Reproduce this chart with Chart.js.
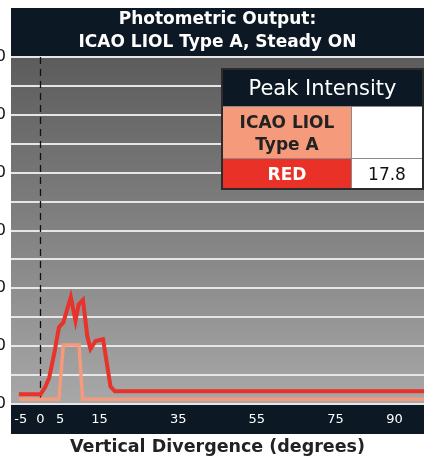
<!DOCTYPE html>
<html>
<head>
<meta charset="utf-8">
<script src="https://cdn.jsdelivr.net/npm/chart.js@4"></script>
<style>
    html, body { margin: 0; padding: 0; background: #fff; }
    #wrap { position: relative; width: 424px; height: 459px; overflow: hidden; }
    #myChart { position: absolute; left: -20px; top: 0; }
    #peak {
        position: absolute; left: 221px; top: 68px; width: 203px;
        border-collapse: collapse; font-family: "DejaVu Sans", sans-serif;
        border: 2px solid #2b2b2b;
    }
    #peak td { border: 1px solid #8a8a8a; text-align: center; padding: 0; }
    #peak .head { background: #0c1824; color: #fff; font-size: 21px; height: 36px; }
    #peak .lbl1 { background: #f59b7c; color: #222; font-weight: bold; font-size: 17px; height: 51px; width: 128px; line-height: 22px; }
    #peak .lbl2 { background: #ea3127; color: #fff; font-weight: bold; font-size: 17px; height: 29px; }
    #peak .val { background: #fff; color: #111; font-size: 17px; }
</style>
</head>
<body>
<div id="wrap">
    <canvas id="myChart" width="444" height="459"></canvas>
    <table id="peak">
        <tr><td class="head" colspan="2">Peak Intensity</td></tr>
        <tr><td class="lbl1">ICAO LIOL<br>Type A</td><td class="val"></td></tr>
        <tr><td class="lbl2">RED</td><td class="val">17.8</td></tr>
    </table>
</div>
<script>
"use strict";

// values
const redDeg = [-5.5, 0, 1.1, 2.2, 3.6, 4.7, 5.8, 7.7, 8.9, 9.7, 10.8, 11.9, 12.7, 14.0, 15.9, 17.8, 18.9, 97.5];
const redVals = [1.7, 1.7, 2.8, 4.5, 9.1, 13.3, 14.1, 18.5, 14.4, 17.2, 18.0, 11.7, 9.5, 10.9, 11.2, 3.0, 2.2, 2.2];
const typeADeg = [-5.5, 4.7, 5.8, 9.8, 10.7, 97.5];
const typeAVals = [0.8, 0.8, 10.2, 10.2, 0.8, 0.8];
const xTicks = [-5, 0, 5, 15, 35, 55, 75, 90];

const toPoints = (xs, ys) => xs.map((x, i) => ({ x: x, y: ys[i] }));

const FONT = "'DejaVu Sans', sans-serif";
const NAVY = "#0c1824";

// plot background, title band, x-axis band
const backdrop = {
    id: "backdrop",
    beforeDraw(chart) {
        const { ctx, chartArea: a } = chart;
        ctx.save();
        const g = ctx.createLinearGradient(0, a.top, 0, a.bottom);
        g.addColorStop(0, "#5c5c5c");
        g.addColorStop(1, "#a8a8a8");
        ctx.fillStyle = g;
        ctx.fillRect(a.left, a.top, a.right - a.left, a.bottom - a.top);
        ctx.fillStyle = NAVY;
        ctx.fillRect(a.left, 8, a.right - a.left, a.top - 8);
        ctx.fillRect(a.left, a.bottom, a.right - a.left, 30);
        ctx.restore();
    },
    beforeDatasetsDraw(chart) {
        const { ctx, chartArea: a } = chart;
        const x0 = chart.scales.x.getPixelForValue(0);
        ctx.save();
        ctx.strokeStyle = "#111";
        ctx.lineWidth = 1.3;
        ctx.setLineDash([7, 5]);
        ctx.beginPath();
        ctx.moveTo(x0, a.top);
        ctx.lineTo(x0, a.bottom);
        ctx.stroke();
        ctx.restore();
    }
};

const renderChart = () => {
    const ctx = document.getElementById("myChart");

    new Chart(ctx, {
        type: "line",
        data: {
            datasets: [{
                label: "RED",
                data: toPoints(redDeg, redVals),
                borderColor: "#e8322a",
                borderWidth: 4,
                pointRadius: 0,
                tension: 0
            }, {
                label: "ICAO LIOL Type A",
                data: toPoints(typeADeg, typeAVals),
                borderColor: "#f59a7b",
                borderWidth: 3.5,
                pointRadius: 0,
                tension: 0
            }]
        },
        options: {
            responsive: false,
            animation: false,
            devicePixelRatio: 1,
            layout: { padding: 0 },
            plugins: {
                legend: { display: false },
                tooltip: { enabled: false },
                title: {
                    display: true,
                    fullSize: false, // centre over the plot, not the canvas
                    text: ["Photometric Output:", "ICAO LIOL Type A, Steady ON"],
                    color: "#fff",
                    font: { family: FONT, size: 17, weight: "bold", lineHeight: "23px" },
                    padding: { top: 8, bottom: 3 }
                }
            },
            scales: {
                x: {
                    type: "linear",
                    min: -7.5,
                    max: 97.5,
                    afterBuildTicks: scale => {
                        scale.ticks = xTicks.map(v => ({ value: v }));
                    },
                    afterFit: scale => { scale.height = 55; },
                    grid: { display: false, drawTicks: false },
                    border: { display: false },
                    ticks: {
                        color: "#fff",
                        font: { family: FONT, size: 13 },
                        padding: 8,
                        maxRotation: 0,
                        autoSkip: false
                    },
                    title: {
                        display: true,
                        text: "Vertical Divergence (degrees)",
                        color: "#222",
                        font: { family: FONT, size: 17.5, weight: "bold", lineHeight: "23px" },
                        padding: { top: 0, bottom: 0 }
                    }
                },
                y: {
                    min: 0,
                    max: 60,
                    afterFit: scale => { scale.width = 31; },
                    grid: { color: "#e6e6e6", lineWidth: 2, drawTicks: false },
                    border: { display: false },
                    ticks: {
                        stepSize: 5,
                        color: "#111",
                        padding: 5,
                        font: { family: FONT, size: 16 },
                        callback: v => (v % 10 === 0 ? v : "")
                    }
                }
            }
        },
        plugins: [backdrop]
    });
};

document.addEventListener("DOMContentLoaded", renderChart);
</script>
</body>
</html>
